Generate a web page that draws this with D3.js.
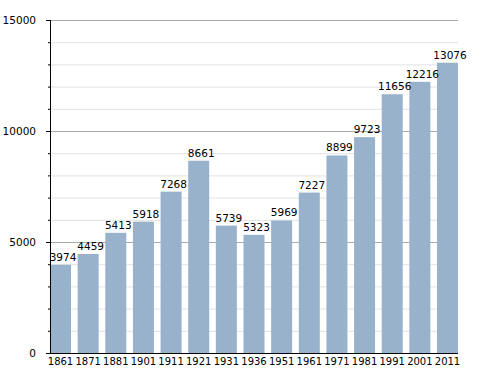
<!DOCTYPE html>
<html>
<head>
<meta charset="utf-8">
<script src="https://cdn.jsdelivr.net/npm/d3@7"></script>
<style>
  body { margin: 0; background: #fff; }
  text { font-family: "DejaVu Sans", sans-serif; }
</style>
</head>
<body>
<div id="chart"></div>
<script>
// Population by census year
const years = ["1861", "1871", "1881", "1901", "1911", "1921", "1931", "1936",
               "1951", "1961", "1971", "1981", "1991", "2001", "2011"];
const population = [3974, 4459, 5413, 5918, 7268, 8661, 5739, 5323,
                    5969, 7227, 8899, 9723, 11656, 12216, 13076];
const majorTicks = [0, 5000, 10000, 15000];
const minorTicks = d3.range(0, 15001, 1000).filter(v => v % 5000 !== 0);

const data = years.map((y, i) => ({year: y, value: population[i]}));

const width = 488;
const height = 373;
const margin = {top: 20, right: 30, bottom: 20, left: 50};

const svg = d3.select("#chart")
    .append("svg")
    .attr("width", width)
    .attr("height", height);

const xScale = d3.scaleBand()
    .domain(years)
    .range([margin.left, width - margin.right])
    .paddingInner(0.24)
    .paddingOuter(0);

const yScale = d3.scaleLinear()
    .domain([0, 15000])
    .range([height - margin.bottom, margin.top]);

// Minor gridlines
svg.append("g")
    .selectAll("line")
    .data(minorTicks)
    .join("line")
    .attr("x1", margin.left)
    .attr("x2", width - margin.right)
    .attr("y1", d => yScale(d) + 0.5)
    .attr("y2", d => yScale(d) + 0.5)
    .attr("stroke", "#e2e2e2");

// Major gridlines
svg.append("g")
    .selectAll("line")
    .data(majorTicks.filter(d => d > 0))
    .join("line")
    .attr("x1", margin.left)
    .attr("x2", width - margin.right)
    .attr("y1", d => yScale(d) + 0.5)
    .attr("y2", d => yScale(d) + 0.5)
    .attr("stroke", "#aaaaaa");

// Bars
svg.selectAll("rect.bar")
    .data(data)
    .join("rect")
    .attr("class", "bar")
    .attr("x", d => xScale(d.year))
    .attr("y", d => yScale(d.value))
    .attr("width", xScale.bandwidth())
    .attr("height", d => yScale(0) - yScale(d.value))
    .attr("fill", "#99b2cb");

// Value labels
svg.selectAll("text.value")
    .data(data)
    .join("text")
    .attr("class", "value")
    .attr("x", d => xScale(d.year) + xScale.bandwidth() / 2 + 2.5)
    .attr("y", d => yScale(d.value) - 4)
    .attr("text-anchor", "middle")
    .style("font-size", "10.5px")
    .attr("fill", "#000")
    .text(d => d.value);

// Y axis: major ticks
const yAxis = svg.append("g")
    .attr("transform", `translate(${margin.left},0)`)
    .call(d3.axisLeft(yScale).tickValues(majorTicks).tickSize(4).tickPadding(10).tickFormat(d3.format("d")));
yAxis.selectAll("text").style("font-size", "10.5px").attr("fill", "#000");
yAxis.selectAll("line").attr("stroke", "#000");
yAxis.select(".domain").attr("stroke", "#000").attr("d", `M0.5,${yScale(15000)}V${yScale(0)}`);

// Y axis: minor ticks
svg.append("g")
    .attr("transform", `translate(${margin.left},0)`)
    .call(d3.axisLeft(yScale).tickValues(minorTicks).tickSize(2).tickFormat(""))
    .call(g => g.select(".domain").remove())
    .selectAll("line").attr("stroke", "#000");

// X axis
const xAxis = svg.append("g")
    .attr("transform", `translate(0,${height - margin.bottom})`)
    .call(d3.axisBottom(xScale).tickSize(0).tickPadding(5));
xAxis.selectAll("text").style("font-size", "10px").attr("fill", "#000");
xAxis.select(".domain").attr("stroke", "#000").attr("d", `M${margin.left},0.5H${width - margin.right}`);
</script>
</body>
</html>
